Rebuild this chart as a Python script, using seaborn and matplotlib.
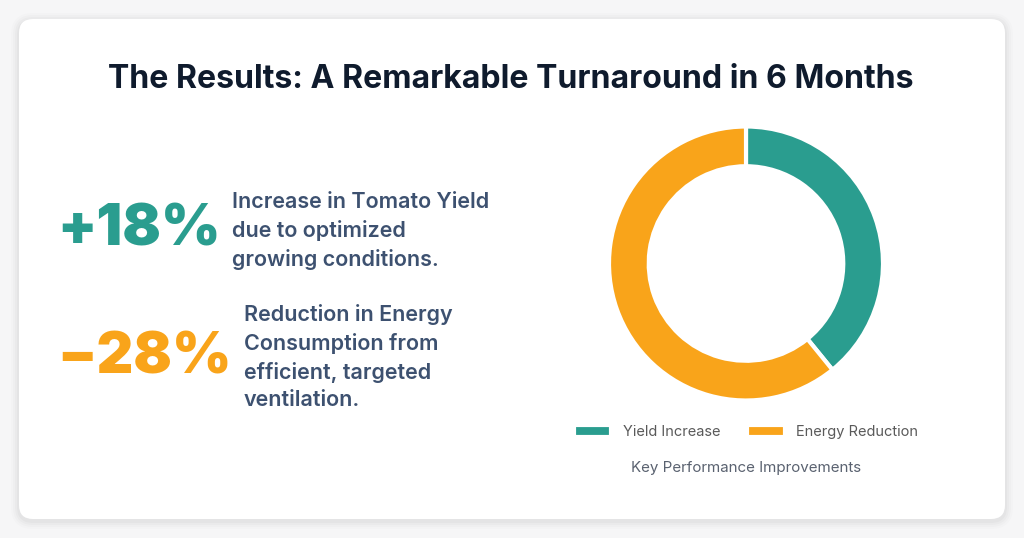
import matplotlib
matplotlib.use("Agg")
import matplotlib.pyplot as plt
import seaborn as sns
from matplotlib.patches import FancyBboxPatch

# ==========================================
# Data
# ==========================================
title = "The Results: A Remarkable Turnaround in 6 Months"
categories = ["Yield Increase", "Energy Reduction"]
values = [18, 28]
kpi_labels = ["+18%", "\u221228%"]
kpi_texts = [
    "Increase in Tomato Yield\ndue to optimized\ngrowing conditions.",
    "Reduction in Energy\nConsumption from\nefficient, targeted\nventilation.",
]
caption = "Key Performance Improvements"

TEAL = "#2A9D8F"
ORANGE = "#F9A41A"
colors = [TEAL, ORANGE]

sns.set_theme(style="white")
plt.rcParams["font.family"] = ["Inter", "DejaVu Sans"]

W, H = 1024, 538
fig = plt.figure(figsize=(W / 100, H / 100), dpi=100)
fig.patch.set_facecolor("#F6F6F7")

# background axes in pixel coordinates
bg = fig.add_axes([0, 0, 1, 1])
bg.set_xlim(0, W)
bg.set_ylim(H, 0)
bg.axis("off")

# card shadow + card
for i, a in enumerate([0.025, 0.02, 0.015, 0.01]):
    pad = 2 + i * 2
    bg.add_patch(FancyBboxPatch((19 - pad, 21 - pad), 986 + 2 * pad, 500 + 2 * pad,
                                boxstyle="round,pad=0,rounding_size=%d" % (14 + pad),
                                facecolor="black", edgecolor="none", alpha=a))
bg.add_patch(FancyBboxPatch((19, 19), 986, 500, boxstyle="round,pad=0,rounding_size=14",
                            facecolor="white", edgecolor="none"))

bg.text(511, 79, title, ha="center", va="center", fontsize=23.1,
        fontweight="bold", color="#0F1B2D")

# KPI blocks
kpi_pos = [(57, 230, 232, 201), (57, 359, 244, 313)]
for (nx, ny, tx, ty), lab, txt, col in zip(kpi_pos, kpi_labels, kpi_texts, colors):
    bg.text(nx, ny, lab, ha="left", va="center", fontsize=41,
            fontweight="black", color=col)
    bg.text(tx, ty - 9, txt, ha="left", va="top", fontsize=15.5,
            fontweight="semibold", color="#3D5170", linespacing=1.47)

# ==========================================
# Donut
# ==========================================
cx, cy, r = 746, 263.5, 137
ax = fig.add_axes([(cx - r) / W, (H - cy - r) / H, 2 * r / W, 2 * r / H])
wedges, _ = ax.pie(values, colors=colors, startangle=90, counterclock=False,
                   radius=1, wedgeprops=dict(width=0.29, edgecolor="white", linewidth=3))
ax.set_xlim(-1.0, 1.0)
ax.set_ylim(-1.0, 1.0)
ax.set_aspect("equal")
ax.axis("off")

leg = bg.legend(wedges, categories, loc="center", bbox_to_anchor=(746 / W, 1 - 432 / H),
                bbox_transform=fig.transFigure, ncol=2, frameon=False, fontsize=10.5,
                handlelength=2.6, handleheight=0.9, columnspacing=1.8, handletextpad=0.8)
for t in leg.get_texts():
    t.set_color("#5A5A5A")

bg.text(746, 468, caption, ha="center", va="center", fontsize=10.9, color="#5A6270")

fig.savefig("out.png", dpi=100, facecolor=fig.get_facecolor())
